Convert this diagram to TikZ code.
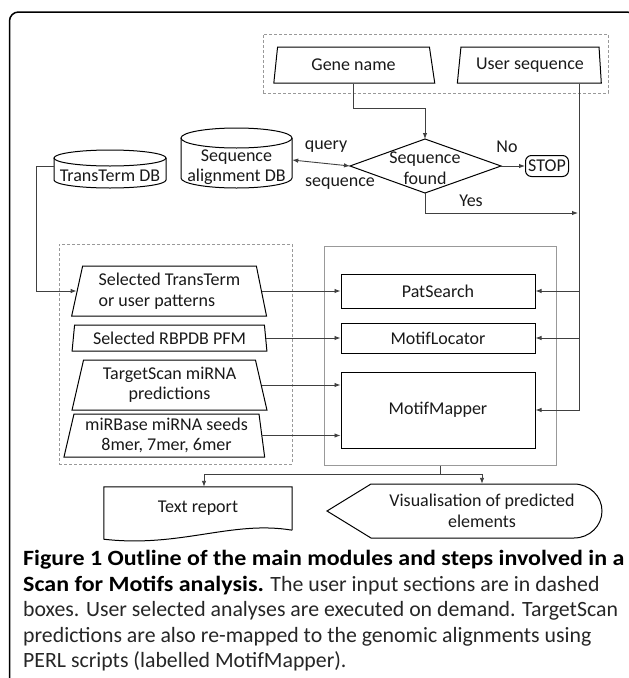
\documentclass[tikz,border=0pt]{standalone}
\usepackage{fontspec}
\setmainfont{Carlito}
\newfontface\capbold{Carlito Bold}[FakeStretch=1.10]
\usetikzlibrary{shapes.geometric,arrows.meta,calc}
\begin{document}
\begin{tikzpicture}[x=1pt,y=-1pt,
  every node/.style={font=\fontsize{18}{20.5}\selectfont, text=black!90, inner sep=0pt},
  conn/.style={draw=black!75, line width=0.9pt},
  arr/.style={conn, -{Latex[length=6pt,width=4.5pt]}},
  darr/.style={conn, {Latex[length=6pt,width=4.5pt]}-{Latex[length=6pt,width=4.5pt]}},
  shp/.style={draw=black, line width=1pt},
  trap/.style={shp, trapezium, trapezium stretches=true, align=center},
  box/.style={shp, rectangle},
  dbox/.style={draw=black!40, dash pattern=on 3pt off 2pt, line width=0.8pt},
  gbox/.style={draw=black!40, line width=1pt},
  ]
\useasboundingbox (0,0) rectangle (629,678);
% outer frame
\draw[line width=1.5pt, rounded corners=9pt] (9.5,700) -- (9.5,12) -- (636,12) -- (636,700);

% group boxes
\node[dbox, minimum width=345pt, minimum height=59pt] (topin) at (435.5,63.5) {};
\node[dbox, minimum width=233pt, minimum height=220pt] (inp) at (175.5,354) {};
\node[gbox, minimum width=232pt, minimum height=219pt] (grp) at (440,355.5) {};

% inputs at top
\node[trap, trapezium left angle=80, trapezium right angle=76, minimum width=161pt, minimum height=36pt] (gene) at (353.5,65) {Gene name};
\node[trap, trapezium left angle=79, trapezium right angle=83, minimum width=144pt, minimum height=36pt] (user) at (530,65) {User sequence};

% databases
\draw[shp] (181,138) -- (181,178) arc[start angle=180, end angle=360, x radius=55.5pt, y radius=10pt] -- (292,138);
\draw[shp] (236.5,138) ellipse[x radius=55.5pt, y radius=10pt];
\node[minimum width=111pt, align=center] (seqdb) at (236.5,167) {Sequence\\alignment DB};

\draw[shp] (54,158) -- (54,180) arc[start angle=180, end angle=360, x radius=56pt, y radius=8pt] -- (166,158);
\draw[shp] (110,158) ellipse[x radius=56pt, y radius=8pt];
\node[minimum width=112pt] (tdb) at (110,176) {TransTerm DB};

% decision
\coordinate (dT) at (425,139);
\coordinate (dR) at (501,166);
\coordinate (dB) at (425,193);
\coordinate (dL) at (350,166);
\draw[shp] (dT) -- (dR) -- (dB) -- (dL) -- cycle;
\node[align=center] (dia) at (425,168) {Sequence\\found};
\node[shp, rounded corners=6pt, minimum width=43pt, minimum height=21pt] (stop) at (547,166) {STOP};

\node (lq) at (326,147) {query};
\node (ls) at (340,184) {sequence};
\node (lno) at (507,147) {No};
\node (lyes) at (471,201) {Yes};

% analysis inputs
\node[trap, align=left, trapezium left angle=76, trapezium right angle=77, minimum width=195pt, minimum height=50pt] (sel) at (169.5,291) {Selected TransTerm\\or user patterns};
\node[trap, trapezium left angle=81, trapezium right angle=81, minimum width=195pt, minimum height=26pt] (rb) at (169.5,338) {Selected RBPDB PFM};
\node[trap, trapezium left angle=76, trapezium right angle=76, minimum width=195pt, minimum height=50pt] (ts) at (169.5,385) {TargetScan miRNA\\predictions};
\node[trap, trapezium left angle=76, trapezium right angle=82, minimum width=201pt, minimum height=43pt] (mi) at (166.5,435.5) {miRBase miRNA seeds\\8mer, 7mer, 6mer};

% modules
\node[box, minimum width=194pt, minimum height=34pt] (pat) at (438,291) {PatSearch};
\node[box, minimum width=194pt, minimum height=30pt] (loc) at (438,338) {MotifLocator};
\node[box, minimum width=194pt, minimum height=76pt] (mm) at (438,410) {MotifMapper};

% outputs
\node[minimum width=188pt, minimum height=43pt] (rep) at (198,508.5) {Text report};
\draw[shp] (rep.south east) -- (rep.north east) -- (rep.north west) -- ($(rep.south west)+(0,9)$) .. controls (180,548) and (232,520) .. (rep.south east);
\node[minimum width=203pt, minimum height=54pt, align=center] (vis) at (482,511) {Visualisation of predicted\\elements};
\draw[shp] (371,484) -- (574,484) arc[start angle=90, end angle=-90, x radius=28pt, y radius=27pt] -- (371,538) -- (327,511) -- cycle;

% connectors
\draw[arr] (gene.south) -- ++(0,25) -| (dT);
\draw[darr] ([yshift=7pt]seqdb.east) -- (dL);
\draw[arr] (dR) -- (stop.west);
\coordinate (yesend) at (578,213);
\draw[arr] (dB) |- (yesend);
\coordinate (bus) at (579,410);
\draw[arr] (user.south -| bus) -- (bus) -- (mm.east);
\draw[arr] (bus |- pat.east) -- (pat.east);
\draw[arr] (bus |- loc.east) -- (loc.east);
\coordinate (tbend) at (36,166);
\draw[arr] ([yshift=10pt]tdb.west) -- (tbend) |- (sel.west);
\draw[arr] (sel.east) -- (sel.east -| pat.west);
\draw[arr] (rb.east) -- (rb.east -| loc.west);
\draw[arr] (ts.east) -- (ts.east -| mm.west);
\draw[arr] (mi.east) -- (mi.east -| mm.west);
\draw[conn] (grp.south) -- ++(0,9) coordinate (split);
\draw[arr] (split) -| ([xshift=6pt]rep.north);
\draw[arr] (split) -| (vis.north);

% caption
\node[anchor=base west, align=left, font=\fontsize{21.8}{25.5}\selectfont, text=black!85] (cap) at (23,667.5)
{{\color{black}\capbold Figure 1 Outline of the main modules and steps involved in a}\\
{\color{black}\capbold Scan for Motifs analysis.} The user input sections are in dashed\\
boxes. User selected analyses are executed on demand. TargetScan\\
predictions are also re-mapped to the genomic alignments using\\
PERL scripts (labelled MotifMapper).};
\end{tikzpicture}
\end{document}
